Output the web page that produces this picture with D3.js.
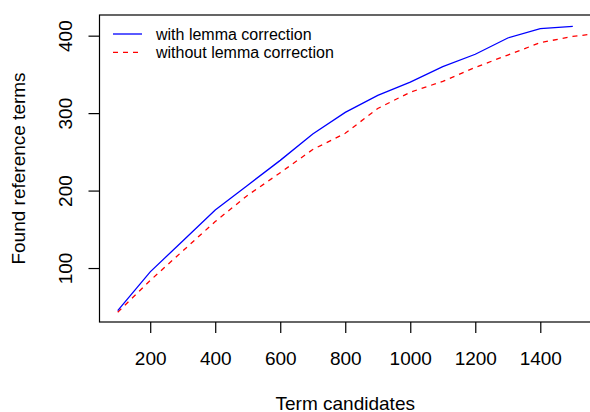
<!DOCTYPE html>
<html>
<head>
<meta charset="utf-8">
<script src="https://cdn.jsdelivr.net/npm/d3@7"></script>
<style>
  body { margin: 0; background: #fff; }
  text { font-family: "Liberation Sans", Arial, Helvetica, sans-serif; fill: #000; }
</style>
</head>
<body>
<svg id="chart"></svg>
<script>
// term candidates (x) and found reference terms for both runs
const candidates = [100, 200, 300, 400, 500, 600, 700, 800, 900, 1000, 1100, 1200, 1300, 1400, 1500];
const withLemma = [45, 95, 135, 175, 207, 239, 273, 301, 323, 340, 360, 376, 397, 409, 412];
const candidatesNoLemma = [100, 200, 300, 400, 500, 600, 700, 800, 900, 1000, 1100, 1200, 1300, 1400, 1500, 1600];
const withoutLemma = [43, 84, 122, 160, 194, 223, 253, 274, 306, 327, 341, 359, 375, 391, 399, 404];
const xTicks = [200, 400, 600, 800, 1000, 1200, 1400];
const yTicks = [100, 200, 300, 400];
const legendLabels = ["with lemma correction", "without lemma correction"];

const W = 590, H = 412;
const margin = { top: 15, right: -1, bottom: 90, left: 99.5 },
  width = W - margin.left - margin.right,
  height = H - margin.top - margin.bottom;

const svg = d3
  .select("#chart")
  .attr("width", W)
  .attr("height", H)
  .append("g")
  .attr("transform", `translate(${margin.left},${margin.top})`);

// R style 4% padding around the range of the first series
function pad(ext) {
  const d = (ext[1] - ext[0]) * 0.04;
  return [ext[0] - d, ext[1] + d];
}

const x = d3.scaleLinear().domain(pad(d3.extent(candidates))).range([0, width]);
const y = d3.scaleLinear().domain(pad(d3.extent(withLemma))).range([height, 0]);

svg.append("clipPath").attr("id", "clip")
  .append("rect").attr("width", width).attr("height", height);

const line = d3.line().x((d) => x(d[0])).y((d) => y(d[1]));

svg.append("path")
  .datum(candidatesNoLemma.map((c, i) => [c, withoutLemma[i]]))
  .attr("clip-path", "url(#clip)")
  .attr("d", line)
  .attr("fill", "none")
  .attr("stroke", "#ff0000")
  .attr("stroke-width", 1.3)
  .attr("stroke-dasharray", "5,5");

svg.append("path")
  .datum(candidates.map((c, i) => [c, withLemma[i]]))
  .attr("clip-path", "url(#clip)")
  .attr("d", line)
  .attr("fill", "none")
  .attr("stroke", "#0000ff")
  .attr("stroke-width", 1.3);

// box
svg.append("rect")
  .attr("width", width)
  .attr("height", height)
  .attr("fill", "none")
  .attr("stroke", "#000")
  .attr("stroke-width", 1.2);

const xAxis = svg.append("g")
  .attr("transform", `translate(0,${height})`)
  .call(d3.axisBottom(x).tickValues(xTicks).tickSize(11).tickFormat(d3.format("d")));
xAxis.select(".domain").remove();
xAxis.selectAll("line").attr("stroke", "#000").attr("stroke-width", 1.2);
xAxis.selectAll("text")
  .attr("y", 364.5 - 322).attr("dy", 0)
  .style("font-size", "19px");

const yAxis = svg.append("g")
  .call(d3.axisLeft(y).tickValues(yTicks).tickSize(11));
yAxis.select(".domain").remove();
yAxis.selectAll("line").attr("stroke", "#000").attr("stroke-width", 1.2);
yAxis.selectAll("text")
  .attr("transform", "rotate(-90)")
  .attr("x", 0).attr("y", 71.5 - margin.left).attr("dy", 0)
  .attr("text-anchor", "middle")
  .style("font-size", "19px");

svg.append("text")
  .attr("x", width / 2)
  .attr("y", 409.5 - margin.top)
  .attr("text-anchor", "middle")
  .style("font-size", "19px")
  .text("Term candidates");

svg.append("text")
  .attr("transform", "rotate(-90)")
  .attr("x", -height / 2)
  .attr("y", 25 - margin.left)
  .attr("text-anchor", "middle")
  .style("font-size", "19px")
  .text("Found reference terms");

// legend, no frame
const legend = svg.append("g").attr("transform", `translate(${113 - margin.left},${34 - margin.top})`);
legendLabels.forEach((label, i) => {
  const row = legend.append("g").attr("transform", `translate(0,${i * 18.3})`);
  row.append("line")
    .attr("x1", 0).attr("x2", 29)
    .attr("stroke", i === 0 ? "#0000ff" : "#ff0000")
    .attr("stroke-width", 1.3)
    .attr("stroke-dasharray", i === 0 ? null : "5,5");
  row.append("text")
    .attr("x", 43)
    .attr("dy", "0.35em")
    .style("font-size", "16px")
    .text(label);
});
</script>
</body>
</html>
